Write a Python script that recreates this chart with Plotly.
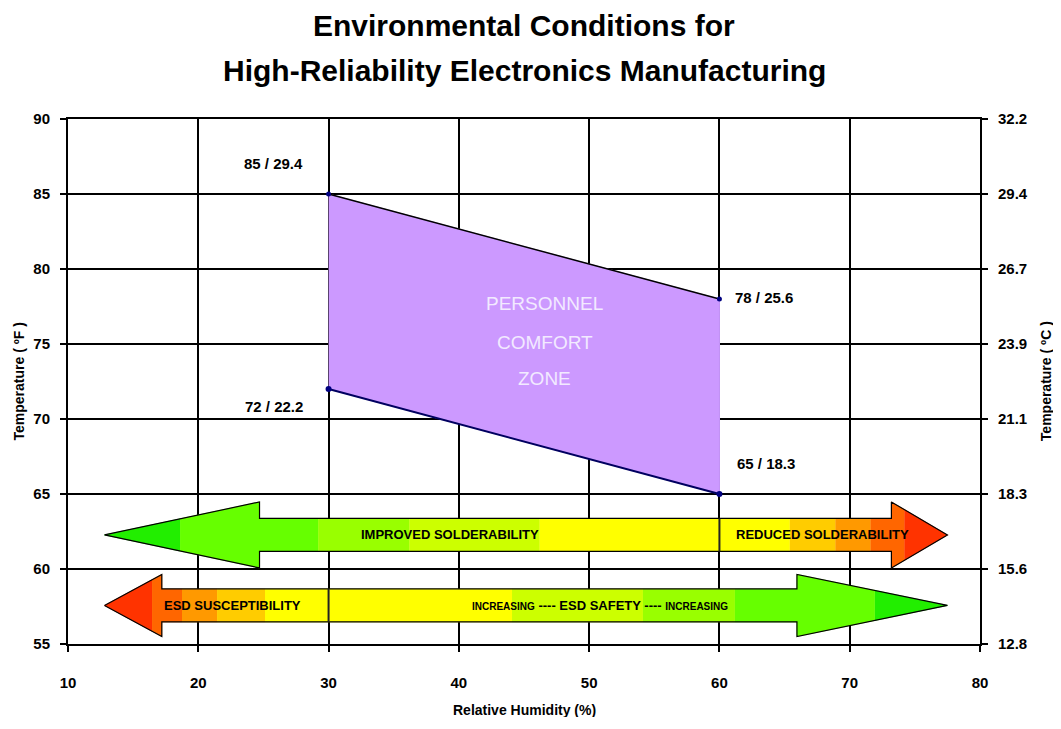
import plotly.graph_objects as go

# axis ticks
rh_ticks = [10, 20, 30, 40, 50, 60, 70, 80]
temp_f_ticks = [55, 60, 65, 70, 75, 80, 85, 90]
temp_c_labels = ["12.8", "15.6", "18.3", "21.1", "23.9", "26.7", "29.4", "32.2"]

# personnel comfort zone corners (RH %, deg F)
zone_rh = [30, 60, 60, 30]
zone_temp_f = [85, 78, 65, 72]
zone_labels = ["85 / 29.4", "78 / 25.6", "65 / 18.3", "72 / 22.2"]
zone_words = ["PERSONNEL", "COMFORT", "ZONE"]

# solderability arrow: tip, head base, head base, tip (RH %)
solder_rh = [12.8, 24.7, 73.2, 77.5]
solder_temp_f = 62.27
solder_bands = [12.8, 18.6, 29.2, 36.2, 46.2, 65.4, 68.9, 71.6, 74.2, 77.5]
solder_colors = ["#22ee00", "#66ff00", "#99ff00", "#ccff00", "#ffff00",
                 "#ffcc00", "#ff9900", "#ff6600", "#ff3300"]
solder_divider_rh = 60

# ESD arrow
esd_rh = [12.8, 17.2, 65.95, 77.5]
esd_temp_f = 57.57
esd_bands = [12.8, 16.45, 18.75, 21.44, 25.12, 44.08, 54.13, 61.19, 71.93, 77.5]
esd_colors = ["#ff3300", "#ff6600", "#ff9900", "#ffcc00", "#ffff00",
              "#ccff00", "#99ff00", "#66ff00", "#22ee00"]
esd_divider_rh = 30

BODY = 1.1
HEAD_S = 2.2
HEAD_E = 2.07

fig = go.Figure()


def outline(rh, body, head):
    tl, bl, br, tr = rh
    return [(tl, 0), (bl, head), (bl, body), (br, body), (br, head), (tr, 0)]


def half_width(pts, x):
    for (x0, h0), (x1, h1) in zip(pts[:-1], pts[1:]):
        if x1 > x0 and x0 <= x <= x1:
            return h0 + (h1 - h0) * (x - x0) / (x1 - x0)
    return 0


def clipped(pts, a, b):
    top = [(a, half_width(pts, a))]
    top += [p for p in pts if a < p[0] < b]
    top.append((b, half_width(pts, b)))
    return top


def draw_arrow(rh, yc, head, bands, colors, divider):
    pts = outline(rh, BODY, head)
    for a, b, c in zip(bands[:-1], bands[1:], colors):
        top = clipped(pts, a, b)
        xs = [p[0] for p in top] + [p[0] for p in reversed(top)]
        ys = [yc + p[1] for p in top] + [yc - p[1] for p in reversed(top)]
        fig.add_trace(go.Scatter(x=xs, y=ys, fill="toself", fillcolor=c,
                                 mode="lines", line=dict(color=c, width=0.6),
                                 hoverinfo="skip", showlegend=False))
    xs = [p[0] for p in pts] + [p[0] for p in reversed(pts)]
    ys = [yc + p[1] for p in pts] + [yc - p[1] for p in reversed(pts)]
    fig.add_trace(go.Scatter(x=xs, y=ys, mode="lines",
                             line=dict(color="black", width=1.2),
                             hoverinfo="skip", showlegend=False))
    fig.add_trace(go.Scatter(x=[divider, divider], y=[yc - BODY, yc + BODY],
                             mode="lines", line=dict(color="#222", width=2),
                             hoverinfo="skip", showlegend=False))


draw_arrow(solder_rh, solder_temp_f, HEAD_S, solder_bands, solder_colors, solder_divider_rh)
draw_arrow(esd_rh, esd_temp_f, HEAD_E, esd_bands, esd_colors, esd_divider_rh)

# comfort zone
fig.add_trace(go.Scatter(x=zone_rh, y=zone_temp_f, fill="toself", fillcolor="#cc99ff",
                         mode="lines", line=dict(color="#cc99ff", width=1),
                         hoverinfo="skip", showlegend=False))
fig.add_trace(go.Scatter(x=[zone_rh[0], zone_rh[1]], y=[zone_temp_f[0], zone_temp_f[1]],
                         mode="lines+markers", line=dict(color="black", width=1.5),
                         marker=dict(color="#000080", size=5), showlegend=False))
fig.add_trace(go.Scatter(x=[zone_rh[3], zone_rh[2]], y=[zone_temp_f[3], zone_temp_f[2]],
                         mode="lines+markers", line=dict(color="#000060", width=2),
                         marker=dict(color="#000080", size=6), showlegend=False))

# invisible trace to carry the Celsius axis
fig.add_trace(go.Scatter(x=[rh_ticks[0]], y=[(temp_f_ticks[0] - 32) * 5 / 9], yaxis="y2",
                         mode="markers", marker=dict(opacity=0), hoverinfo="skip",
                         showlegend=False))

# corner labels
label_pos = [("right", -24, 31), ("left", 14, 2), ("left", 16, 31), ("right", -24, -17)]
for x, y, t, (anc, dx, dy) in zip(zone_rh, zone_temp_f, zone_labels, label_pos):
    fig.add_annotation(x=x, y=y, text=t, showarrow=False, xanchor=anc, xshift=dx, yshift=dy,
                       font=dict(size=15, color="black", family="Liberation Sans", weight="bold"))

for w, y in zip(zone_words, [77.73, 75.13, 72.73]):
    fig.add_annotation(x=46.6, y=y, text=w, showarrow=False,
                       font=dict(size=19, color="#f2eaff", family="Liberation Sans"))

arrow_font = dict(size=13, color="black", family="Liberation Sans", weight="bold")
fig.add_annotation(x=39.3, y=solder_temp_f, text="IMPROVED SOLDERABILITY", showarrow=False, font=arrow_font)
fig.add_annotation(x=67.9, y=solder_temp_f, text="REDUCED SOLDERABILITY", showarrow=False, font=arrow_font)
fig.add_annotation(x=22.6, y=esd_temp_f, text="ESD SUSCEPTIBILITY", showarrow=False, font=arrow_font)
fig.add_annotation(x=50.8, y=esd_temp_f,
                   text="<span style='font-size:10px'>INCREASING</span> ---- ESD SAFETY ---- "
                        "<span style='font-size:10px'>INCREASING</span>",
                   showarrow=False, font=arrow_font)

# titles
title_font = dict(size=30, color="black", family="Liberation Sans", weight="bold")
fig.add_annotation(xref="paper", yref="paper", x=0.5, y=1.179, text="Environmental Conditions for",
                   showarrow=False, font=title_font, xanchor="center", yanchor="middle")
fig.add_annotation(xref="paper", yref="paper", x=0.5, y=1.093,
                   text="High-Reliability Electronics Manufacturing",
                   showarrow=False, font=title_font, xanchor="center", yanchor="middle")

axis_title_font = dict(size=14, color="black", family="Liberation Sans", weight="bold")
fig.add_annotation(xref="paper", yref="paper", x=0.5, y=-0.126, text="Relative Humidity (%)",
                   showarrow=False, font=axis_title_font, xanchor="center", yanchor="middle")
fig.add_annotation(xref="paper", yref="paper", x=-0.0548, y=0.5, text="Temperature ( ºF )",
                   showarrow=False, font=axis_title_font, textangle=-90,
                   xanchor="center", yanchor="middle")
fig.add_annotation(xref="paper", yref="paper", x=1.072, y=0.5, text="Temperature ( ºC )",
                   showarrow=False, font=axis_title_font, textangle=-90,
                   xanchor="center", yanchor="middle")

tick_font = dict(size=15, color="black", family="Liberation Sans", weight="bold")
axis_common = dict(showgrid=True, gridcolor="black", gridwidth=1.8, zeroline=False,
                   showline=True, linecolor="black", linewidth=2,
                   ticks="outside", ticklen=6, tickwidth=2, tickcolor="black",
                   tickfont=tick_font)

fig.update_layout(
    width=1050, height=709,
    margin=dict(l=60, r=78, t=111, b=73),
    paper_bgcolor="white", plot_bgcolor="white",
    showlegend=False,
    xaxis=dict(range=[rh_ticks[0], rh_ticks[-1]], tickvals=rh_ticks, mirror=True,
               ticklabelstandoff=18, **axis_common),
    yaxis=dict(range=[temp_f_ticks[0], temp_f_ticks[-1]], tickvals=temp_f_ticks,
               ticklabelstandoff=7, **axis_common),
    yaxis2=dict(overlaying="y", side="right",
                range=[(temp_f_ticks[0] - 32) * 5 / 9, (temp_f_ticks[-1] - 32) * 5 / 9],
                tickvals=[(f - 32) * 5 / 9 for f in temp_f_ticks], ticktext=temp_c_labels,
                ticklabelstandoff=7,
                **{**axis_common, "showgrid": False}),
)

fig.write_html("out.html")
